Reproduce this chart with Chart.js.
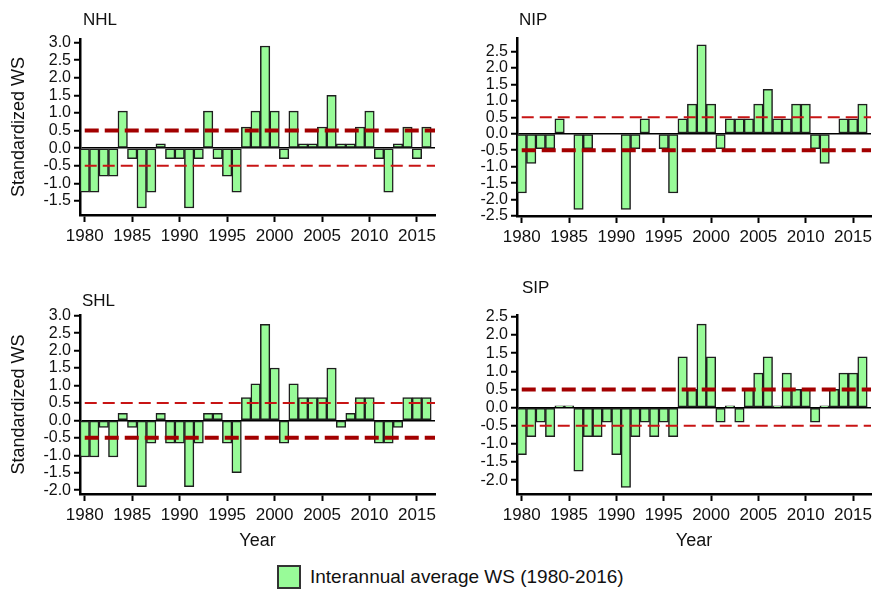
<!DOCTYPE html>
<html>
<head>
<meta charset="utf-8">
<script src="https://cdn.jsdelivr.net/npm/chart.js@4/dist/chart.umd.min.js"></script>
<style>
  html, body { margin: 0; padding: 0; background: #fff; }
  body { width: 888px; height: 592px; position: relative; overflow: hidden;
         font-family: "Liberation Sans", Arial, sans-serif; }
  canvas { position: absolute; }
  #legend { position: absolute; left: 277px; top: 565px; height: 24px;
            display: flex; align-items: center; font-size: 19px; color: #111; }
  #legend .swatch { width: 24px; height: 24px; box-sizing: border-box;
                    background: #98fb98; border: 2px solid #333; margin-right: 9px; }
</style>
</head>
<body>
<canvas id="nhl" width="444" height="250" style="left:0;top:0"></canvas>
<canvas id="nip" width="444" height="250" style="left:444px;top:0"></canvas>
<canvas id="shl" width="444" height="280" style="left:0;top:280px"></canvas>
<canvas id="sip" width="444" height="280" style="left:444px;top:280px"></canvas>
<div id="legend"><span class="swatch"></span><span>Interannual average WS (1980-2016)</span></div>

<script>
// Years on the x axis
const years = [1980, 1981, 1982, 1983, 1984, 1985, 1986, 1987, 1988, 1989,
               1990, 1991, 1992, 1993, 1994, 1995, 1996, 1997, 1998, 1999,
               2000, 2001, 2002, 2003, 2004, 2005, 2006, 2007, 2008, 2009,
               2010, 2011, 2012, 2013, 2014, 2015, 2016];
const yearTicks = [1980, 1985, 1990, 1995, 2000, 2005, 2010, 2015];

// Standardized wind speed per region
const nhlValues = [-1.25, -1.25, -0.8, -0.8, 1.05, -0.3, -1.7, -1.25, 0.12, -0.3,
                   -0.3, -1.7, -0.3, 1.05, -0.3, -0.8, -1.25, 0.6, 1.05, 2.9,
                   1.05, -0.3, 1.05, 0.12, 0.12, 0.6, 1.5, 0.12, 0.12, 0.6,
                   1.05, -0.3, -1.25, 0.12, 0.6, -0.3, 0.6];
const nipValues = [-1.8, -0.9, -0.45, -0.45, 0.45, 0, -2.3, -0.45, 0, 0,
                   0, -2.3, -0.45, 0.45, 0, -0.45, -1.8, 0.45, 0.9, 2.7,
                   0.9, -0.45, 0.45, 0.45, 0.45, 0.9, 1.35, 0.45, 0.45, 0.9,
                   0.9, -0.45, -0.9, 0, 0.45, 0.45, 0.9];
const shlValues = [-1.05, -1.05, -0.2, -1.05, 0.2, -0.2, -1.9, -0.65, 0.2, -0.65,
                   -0.65, -1.9, -0.65, 0.2, 0.2, -0.65, -1.5, 0.65, 1.05, 2.75,
                   1.5, -0.65, 1.05, 0.65, 0.65, 0.65, 1.5, -0.2, 0.2, 0.65,
                   0.65, -0.65, -0.65, -0.2, 0.65, 0.65, 0.65];
const sipValues = [-1.3, -0.8, -0.4, -0.8, 0.05, 0.05, -1.75, -0.8, -0.8, -0.4,
                   -1.3, -2.2, -0.8, -0.4, -0.8, -0.4, -0.8, 1.4, 0.5, 2.3,
                   1.4, -0.4, 0.05, -0.4, 0.5, 0.95, 1.4, 0.05, 0.95, 0.5,
                   0.5, -0.4, 0.05, 0.5, 0.95, 0.95, 1.4];

// Y tick labels per panel
const nhlTicks = [-1.5, -1.0, -0.5, 0.0, 0.5, 1.0, 1.5, 2.0, 2.5, 3.0];
const nipTicks = [-2.5, -2.0, -1.5, -1.0, -0.5, 0.0, 0.5, 1.0, 1.5, 2.0, 2.5];
const shlTicks = [-2.0, -1.5, -1.0, -0.5, 0.0, 0.5, 1.0, 1.5, 2.0, 2.5, 3.0];
const sipTicks = [-2.0, -1.5, -1.0, -0.5, 0.0, 0.5, 1.0, 1.5, 2.0, 2.5];

// +/- 0.5 reference levels
const thresholds = [0.5, -0.5];

Chart.defaults.font.family = '"Liberation Sans", Arial, sans-serif';
Chart.defaults.color = '#111';

const DARK = '#a30000';
const LIGHT = '#c81414';

// Dashed reference levels drawn over the bars
const thresholdLines = {
  id: 'thresholdLines',
  afterDatasetsDraw(chart, args, opts) {
    const { ctx, chartArea, scales: { x, y } } = chart;
    const x0 = x.getPixelForValue(years[0]);
    opts.lines.forEach(l => {
      const py = y.getPixelForValue(l.value);
      ctx.save();
      ctx.strokeStyle = l.color;
      ctx.lineWidth = l.width;
      ctx.setLineDash(l.dash);
      ctx.beginPath();
      ctx.moveTo(x0, py);
      ctx.lineTo(chartArea.right, py);
      ctx.stroke();
      ctx.restore();
    });
  }
};

// Region name above each panel
const panelLabel = {
  id: 'panelLabel',
  afterDraw(chart, args, opts) {
    const ctx = chart.ctx;
    ctx.save();
    ctx.font = '17px "Liberation Sans", Arial, sans-serif';
    ctx.fillStyle = '#111';
    ctx.textBaseline = 'alphabetic';
    ctx.fillText(opts.text, opts.x, opts.y);
    ctx.restore();
  }
};

function makePanel(p) {
  const thick = { color: DARK, width: 4, dash: [14, 6] };
  const thin = { color: LIGHT, width: 2, dash: [12, 6] };
  const lines = [
    Object.assign({ value: thresholds[0] }, p.upperThick ? thick : thin),
    Object.assign({ value: thresholds[1] }, p.upperThick ? thin : thick)
  ];
  return new Chart(document.getElementById(p.id), {
    type: 'bar',
    data: {
      datasets: [{
        label: 'Interannual average WS (1980-2016)',
        data: years.map((yr, i) => ({ x: yr, y: p.values[i] })),
        backgroundColor: '#98fb98',
        borderColor: '#1e1e1e',
        borderWidth: 1.5,
        borderSkipped: false,
        barPercentage: 1,
        categoryPercentage: 1
      }]
    },
    options: {
      responsive: false,
      animation: false,
      events: [],
      layout: { padding: { top: p.padTop, right: p.padRight, left: 0, bottom: 0 } },
      plugins: {
        legend: { display: false },
        tooltip: { enabled: false },
        thresholdLines: { lines },
        panelLabel: { text: p.label, x: p.labelX, y: p.labelY }
      },
      scales: {
        x: {
          type: 'linear',
          offset: false,
          min: 1979.5,
          max: 2016.9,
          afterBuildTicks: s => { s.ticks = yearTicks.map(v => ({ value: v })); },
          afterFit: s => { s.height = p.xHeight; },
          grid: { offset: false, drawOnChartArea: false, drawTicks: true, tickLength: 7,
                  tickColor: '#000', tickWidth: 2 },
          border: { display: true, color: '#000', width: 2.5 },
          ticks: { font: { size: 17 }, color: '#111', padding: 4,
                   maxRotation: 0, autoSkip: false, callback: v => String(v) },
          title: p.xTitle ? { display: true, text: 'Year', font: { size: 18 },
                              color: '#111', padding: { top: 0, bottom: 8 } } : { display: false }
        },
        y: {
          min: p.yMin,
          max: p.yMax,
          afterBuildTicks: s => { s.ticks = p.ticks.map(v => ({ value: v })); },
          afterFit: s => { s.width = p.yWidth; },
          grid: {
            drawOnChartArea: true,
            drawTicks: true,
            tickLength: 6,
            tickColor: '#000',
            tickWidth: 2,
            lineWidth: 1.5,
            color: ctx => (ctx.tick && ctx.tick.value === 0) ? '#000' : 'rgba(0,0,0,0)'
          },
          border: { display: true, color: '#000', width: 2.5 },
          ticks: { font: { size: 16 }, color: '#111', padding: 3, autoSkip: false,
                   callback: v => v.toFixed(1) },
          title: p.yTitle ? { display: true, text: 'Standardized WS', font: { size: 18 },
                              color: '#111', padding: { top: 8, bottom: 0 } } : { display: false }
        }
      }
    },
    plugins: [thresholdLines, panelLabel]
  });
}

makePanel({ id: 'nhl', label: 'NHL', values: nhlValues, ticks: nhlTicks,
            yMin: -1.9, yMax: 3.1, padTop: 39, padRight: 9, yWidth: 80, xHeight: 35,
            labelX: 83, labelY: 25, upperThick: true, yTitle: true, xTitle: false });
makePanel({ id: 'nip', label: 'NIP', values: nipValues, ticks: nipTicks,
            yMin: -2.5, yMax: 2.91, padTop: 38, padRight: 17, yWidth: 73, xHeight: 34,
            labelX: 75, labelY: 25, upperThick: false, yTitle: false, xTitle: false });
makePanel({ id: 'shl', label: 'SHL', values: shlValues, ticks: shlTicks,
            yMin: -2.11, yMax: 3.02, padTop: 35, padRight: 9, yWidth: 80, xHeight: 66,
            labelX: 82, labelY: 26, upperThick: false, yTitle: true, xTitle: true });
makePanel({ id: 'sip', label: 'SIP', values: sipValues, ticks: sipTicks,
            yMin: -2.38, yMax: 2.55, padTop: 35, padRight: 17, yWidth: 73, xHeight: 66,
            labelX: 78, labelY: 13, upperThick: true, yTitle: false, xTitle: true });
</script>
</body>
</html>
